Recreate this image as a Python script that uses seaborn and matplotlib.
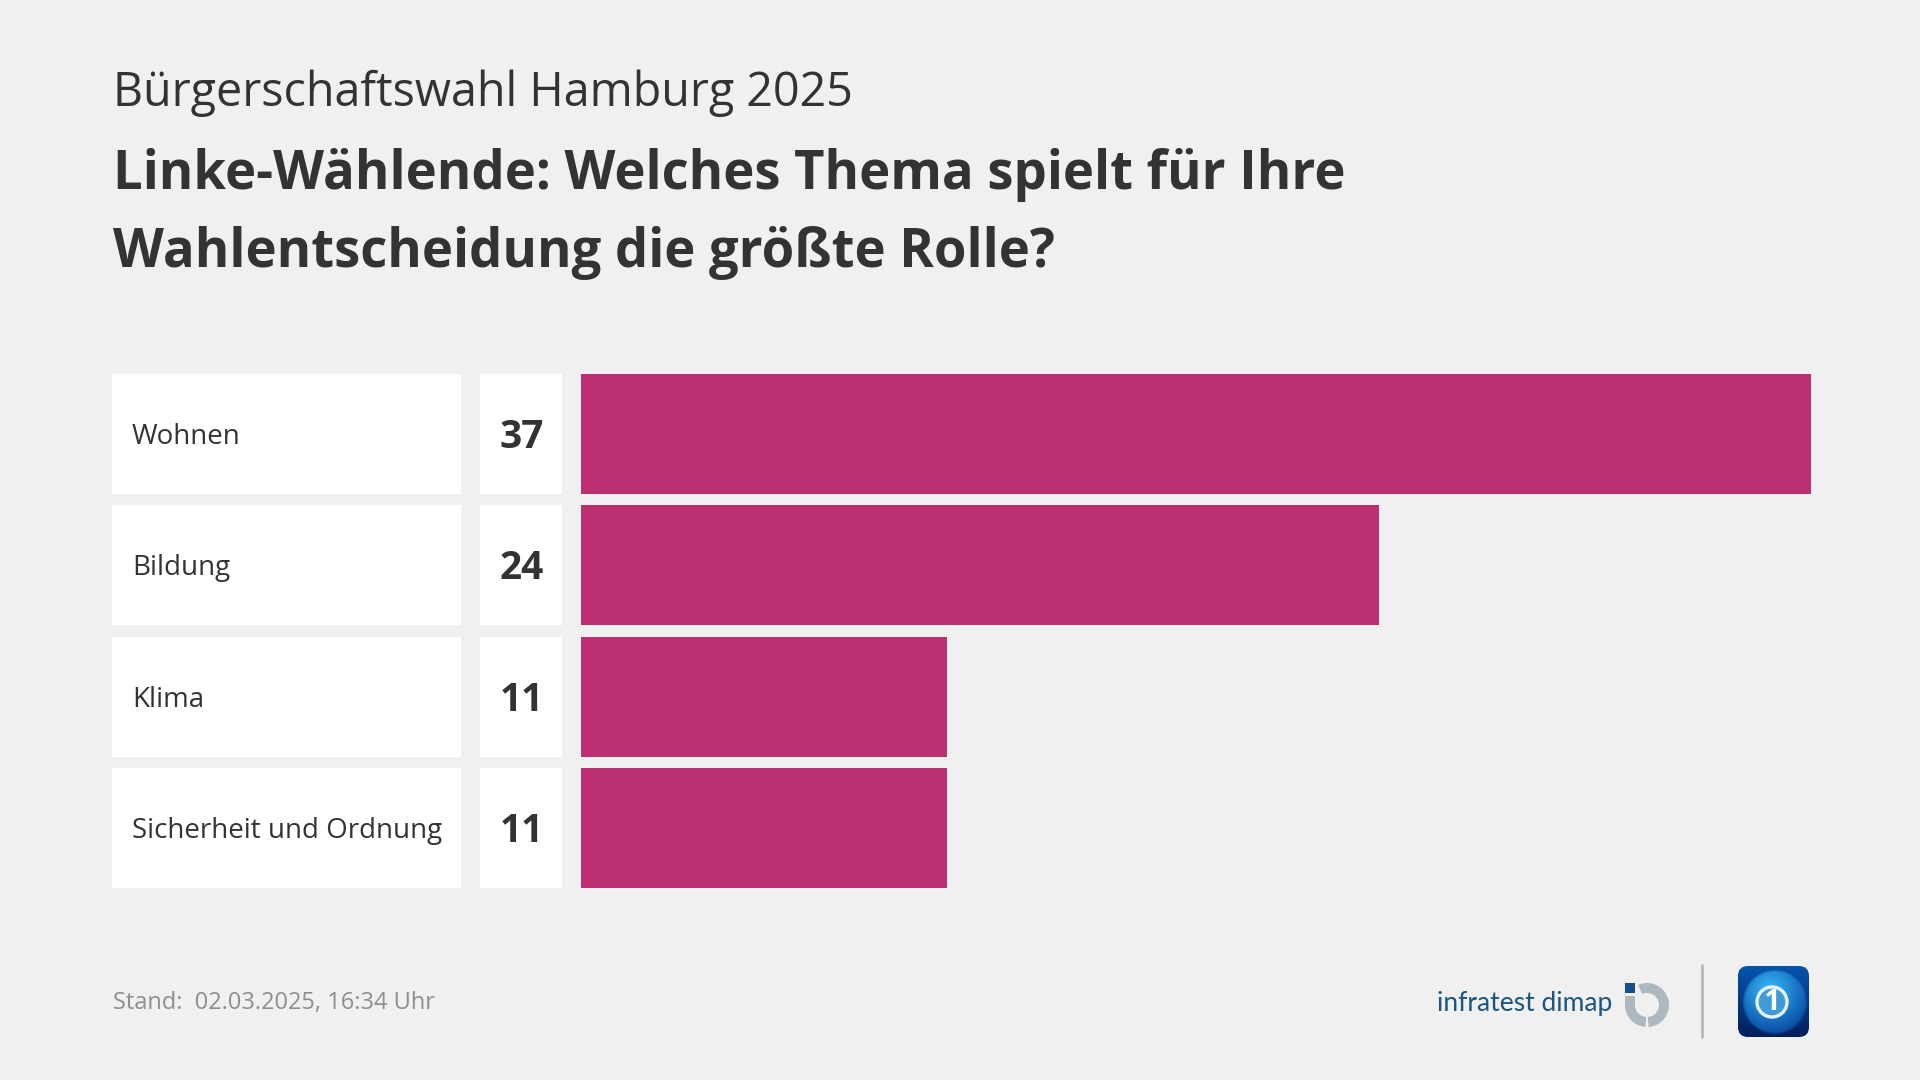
"""Bürgerschaftswahl Hamburg 2025 - Linke voters, top topics"""
import numpy as np
import pandas as pd
import matplotlib
matplotlib.use('Agg')
import matplotlib.pyplot as plt
from matplotlib.patches import Rectangle, Wedge, FancyBboxPatch, Circle
import seaborn as sns

topics = ["Wohnen", "Bildung", "Klima", "Sicherheit und Ordnung"]
shares = [37, 24, 11, 11]

overline = "Bürgerschaftswahl Hamburg 2025"
title_lines = ["Linke-Wählende: Welches Thema spielt für Ihre",
               "Wahlentscheidung die größte Rolle?"]
footer = "Stand:  02.03.2025, 16:34 Uhr"

BG = '#f0f0f0'
BAR = '#bc3072'
INK = '#333333'

sns.set_theme(style="white")
plt.rcParams['font.family'] = ['Open Sans', 'DejaVu Sans']

W, H = 1920, 1080
fig = plt.figure(figsize=(W / 100, H / 100), dpi=100, facecolor=BG)

# full-figure layer in pixel coordinates for boxes, texts and logos
px = fig.add_axes([0, 0, 1, 1], facecolor=BG)
px.set_xlim(0, W)
px.set_ylim(H, 0)
px.axis('off')

# bars
row_top, row_pitch, row_h = 374, 131.4, 120
bar_left, bar_right = 581, 1811
y0 = row_top + row_h / 2 - row_pitch / 2
y1 = y0 + row_pitch * len(topics)
ax = fig.add_axes([bar_left / W, 1 - y1 / H, (bar_right - bar_left) / W, (y1 - y0) / H])
ax.patch.set_alpha(0)
df = pd.DataFrame({'topic': topics, 'share': shares})
# linewidth=0: the white style would otherwise put a white edge on the bars
sns.barplot(data=df, y='topic', x='share', color=BAR, saturation=1, linewidth=0,
            width=row_h / row_pitch, ax=ax)
ax.set_xlim(0, max(shares))
ax.set_ylim(len(topics) - 0.5, -0.5)
ax.axis('off')

# label and value cells
for i, (topic, share) in enumerate(zip(topics, shares)):
    top = row_top + i * row_pitch
    mid = top + row_h / 2
    px.add_patch(Rectangle((112, top), 349, row_h, fc='white', ec='none'))
    px.add_patch(Rectangle((480, top), 82, row_h, fc='white', ec='none'))
    px.text(132, mid + 3, topic, fontsize=20, color=INK, va='center', ha='left')
    px.text(522, mid + 3.5, str(share), fontsize=28, fontweight='bold', color=INK,
            va='center', ha='center')

# heading
px.text(113, 106, overline, fontsize=33.6, color=INK, va='baseline')
px.text(113, 189.5, title_lines[0], fontsize=37.9, fontweight='bold', color=INK, va='baseline')
px.text(113, 267.5, title_lines[1], fontsize=37.9, fontweight='bold', color=INK, va='baseline')

# footer
px.text(113, 1003, footer, fontsize=17, color='#8e8e8e', va='center')

# infratest dimap logo
px.text(1437, 1011, "infratest dimap", fontsize=19, color='#1b5580', va='baseline',
        family=['Lato', 'DejaVu Sans'])
px.add_patch(Wedge((1647, 1005), 22, 246, 86, width=10, fc='#aeb8bf', ec='none'))
px.add_patch(Wedge((1647, 1005), 22, 94, 180, width=10, fc='#aeb8bf', ec='none'))
px.add_patch(Rectangle((1625, 996), 10, 9.5, fc='#aeb8bf', ec='none'))
px.add_patch(Rectangle((1625, 983), 10, 10, fc='#134f8c', ec='none'))

# divider
px.plot([1702, 1702], [965, 1037], color='#b8b8b8', lw=2, solid_capstyle='round')

# tagesschau logo: dark blue tile with a lit globe
xx, yy = np.meshgrid(np.linspace(1738, 1809, 142), np.linspace(966, 1037, 142))
dist = np.hypot(xx - 1775, yy - 1002) / 33
tile_top = np.array([0.02, 0.33, 0.68])
tile_bottom = np.array([0.01, 0.12, 0.36])
t = ((yy - 966) / 71)[..., None]
back = tile_top * (1 - t) + tile_bottom * t
lit = np.clip(1.15 - np.hypot(xx - 1770, yy - 990) / 38, 0, 1)[..., None]
globe = np.array([0.03, 0.30, 0.64]) * (1 - lit) + np.array([0.20, 0.68, 0.94]) * lit
inside = np.clip((1 - dist) * 12, 0, 1)[..., None]
img = back * (1 - inside) + globe * inside
tile = FancyBboxPatch((1747, 975), 53, 53, boxstyle="round,pad=9,rounding_size=10",
                      fc='none', ec='none', transform=px.transData)
px.add_patch(tile)
im = px.imshow(img, extent=(1738, 1809, 1037, 966), aspect='auto', zorder=2)
im.set_clip_path(tile)
px.set_xlim(0, W)
px.set_ylim(H, 0)
px.add_patch(Circle((1772, 1002), 15, fc='#3f9ad6', ec='#e6f2fa', lw=2.4, zorder=3))
px.text(1772, 1002, "1", fontsize=21, fontweight='bold', color='white',
        ha='center', va='center', zorder=4)

fig.savefig('out.png', dpi=100, facecolor=BG)
